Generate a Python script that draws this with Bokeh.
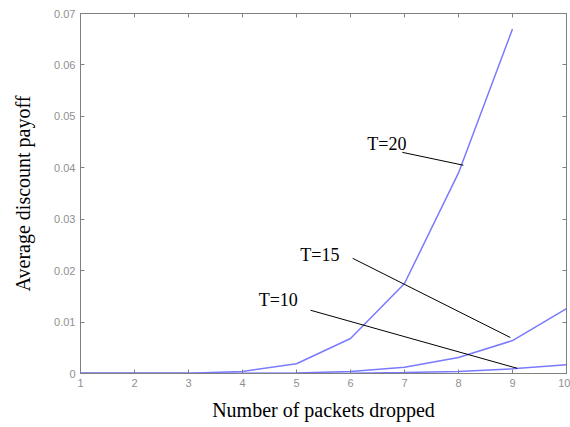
from bokeh.plotting import figure
from bokeh.models import LinearAxis, Range1d, FixedTicker, Label, ColumnDataSource
from bokeh.embed import file_html
from bokeh.resources import INLINE

packets = [1, 2, 3, 4, 5, 6, 7, 8, 9, 10]
payoff_T20 = [0.0, 0.0, 0.00005, 0.0004, 0.0019, 0.0068, 0.0175, 0.039, 0.067]
payoff_T15 = [0.0, 0.0, 0.0, 0.00002, 0.0001, 0.0004, 0.0012, 0.0031, 0.0064, 0.0126]
payoff_T10 = [0.0, 0.0, 0.0, 0.0, 0.0, 0.00005, 0.0002, 0.0004, 0.0009, 0.0017]
y_ticks = [0, 0.01, 0.02, 0.03, 0.04, 0.05, 0.06, 0.07]
y_tick_labels = ["0", "0.01", "0.02", "0.03", "0.04", "0.05", "0.06", "0.07"]
x_ticks = [1, 2, 3, 4, 5, 6, 7, 8, 9, 10]

# annotation labels and pointer lines (data coordinates)
ann_text = ["T=20", "T=15", "T=10"]
ann_text_x = [6.31, 5.07, 4.30]
ann_text_y = [0.0447, 0.0230, 0.0142]
ann_x0 = [6.96, 6.04, 5.26]
ann_y0 = [0.0430, 0.0224, 0.0123]
ann_x1 = [8.09, 8.96, 9.09]
ann_y1 = [0.0405, 0.0070, 0.0010]

curve_color = "#7a7aff"
axis_color = "#808080"
tick_label_color = "#909090"

p = figure(width=570, height=427, output_backend="svg", toolbar_location=None,
           x_range=Range1d(1, 10), y_range=Range1d(0, 0.07),
           min_border_left=80, min_border_right=4, min_border_top=13, min_border_bottom=54)
p.xgrid.visible = False
p.ygrid.visible = False
p.outline_line_color = axis_color
p.outline_line_width = 1
p.background_fill_color = "white"
p.border_fill_color = "white"

p.line(packets[:len(payoff_T20)], payoff_T20, line_color=curve_color, line_width=1.5)
p.line(packets, payoff_T15, line_color=curve_color, line_width=1.5)
p.line(packets, payoff_T10, line_color=curve_color, line_width=1.5)
# dark base line near zero
p.line([packets[0], packets[2]], [0, 0], line_color="#3030c0", line_width=1.5)

src = ColumnDataSource(dict(x0=ann_x0, y0=ann_y0, x1=ann_x1, y1=ann_y1))
p.segment(x0="x0", y0="y0", x1="x1", y1="y1", source=src, line_color="black", line_width=1)
for t, tx, ty in zip(ann_text, ann_text_x, ann_text_y):
    p.add_layout(Label(x=tx, y=ty, text=t, text_font="Liberation Serif", text_font_size="18px",
                       text_color="black", text_baseline="middle", text_align="left"))

for ax in p.xaxis:
    ax.ticker = FixedTicker(ticks=x_ticks)
    ax.axis_label = "Number of packets dropped"
for ax in p.yaxis:
    ax.ticker = FixedTicker(ticks=y_ticks)
    ax.major_label_overrides = {t: l for t, l in zip(y_ticks, y_tick_labels)}
    ax.axis_label = "Average discount payoff"

for ax in list(p.xaxis) + list(p.yaxis):
    ax.axis_line_color = axis_color
    ax.major_tick_line_color = axis_color
    ax.major_tick_in = 4
    ax.major_tick_out = 0
    ax.minor_tick_line_color = None
    ax.major_label_text_font = "Liberation Sans"
    ax.major_label_text_font_size = "11px"
    ax.major_label_text_color = tick_label_color
    ax.major_label_standoff = 5
    ax.axis_label_text_font = "Liberation Serif"
    ax.axis_label_text_font_size = "20px"
    ax.axis_label_text_font_style = "normal"
    ax.axis_label_text_color = "black"

p.xaxis.axis_label_standoff = 9
p.yaxis.axis_label_standoff = 17

top = LinearAxis(ticker=FixedTicker(ticks=x_ticks),
                 major_label_overrides={t: "" for t in x_ticks},
                 axis_line_color=axis_color, major_tick_line_color=axis_color,
                 major_tick_in=4, major_tick_out=0, minor_tick_line_color=None)
right = LinearAxis(ticker=FixedTicker(ticks=y_ticks),
                   major_label_overrides={t: "" for t in y_ticks},
                   axis_line_color=axis_color, major_tick_line_color=axis_color,
                   major_tick_in=4, major_tick_out=0, minor_tick_line_color=None)
p.add_layout(top, "above")
p.add_layout(right, "right")

open("out.html", "w").write(file_html(p, INLINE))
